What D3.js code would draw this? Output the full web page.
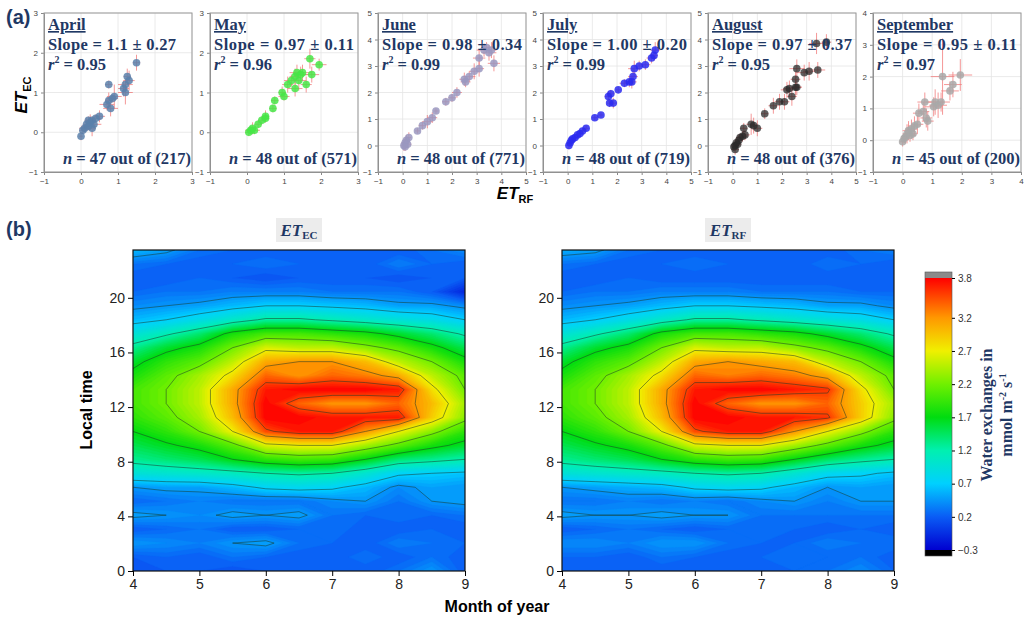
<!DOCTYPE html>
<html>
<head>
<meta charset="utf-8">
<script src="https://cdn.jsdelivr.net/npm/d3@7"></script>
<style>
body { margin: 0; background: white; }
svg { display: block; }
</style>
</head>
<body>
<svg id="svg" width="1025" height="619"></svg>
<script>
// ---------- data: panel (a) scatter, points are [ET_RF, ET_EC, errRF, errEC]
const monthNames = ["April", "May", "June", "July", "August", "September"];
const slopes = ["1.1 \u00b1 0.27", "0.97 \u00b1 0.11", "0.98 \u00b1 0.34", "1.00 \u00b1 0.20", "0.97 \u00b1 0.37", "0.95 \u00b1 0.11"];
const r2 = ["0.95", "0.96", "0.99", "0.99", "0.95", "0.97"];
const nUsed = [47, 48, 48, 48, 48, 45];
const nTotal = [217, 571, 771, 719, 376, 200];
const axisMax = [3, 3, 5, 5, 5, 4];
const pointColours = ["#5b80aa", "#46e646", "#9a98c0", "#2a2af0", "#2a2a2a", "#a8a8a8"];

const april = [[0,-0.1,0.05,0.1],[0.05,0.05,0.1,0.1],[0.1,0.1,0.15,0.1],[0.15,0.2,0.1,0.15],[0.2,0.15,0.2,0.1],[0.25,0.25,0.15,0.2],
  [0.3,0.3,0.1,0.1],[0.35,0.2,0.2,0.15],[0.4,0.35,0.15,0.1],[0.3,0.1,0.1,0.2],[0.2,0.3,0.1,0.1],[0.5,0.4,0.15,0.15],
  [0.7,0.7,0.2,0.15],[0.75,0.8,0.1,0.2],[0.8,0.6,0.2,0.2],[0.85,0.85,0.15,0.1],[0.9,0.9,0.2,0.3],[0.75,1.2,0.1,0.1],
  [1.15,1.1,0.15,0.2],[1.2,1.2,0.2,0.15],[1.25,1.4,0.1,0.2],[1.3,1.3,0.15,0.25],[1.5,1.75,0.1,0.2],[1.2,1.0,0.2,0.3]];
const may = [[0.05,0,0.1,0.1],[0.1,0.05,0.15,0.1],[0.15,0.1,0.1,0.15],[0.2,0.05,0.15,0.1],[0.3,0.2,0.1,0.1],[0.4,0.3,0.1,0.1],
  [0.5,0.35,0.1,0.1],[0.5,0.4,0.1,0.15],[0.7,0.6,0.1,0.1],[0.75,0.8,0.1,0.1],[0.95,1.0,0.1,0.15],[1.0,0.9,0.15,0.1],
  [1.1,1.2,0.15,0.2],[1.2,1.3,0.2,0.15],[1.3,1.4,0.15,0.2],[1.35,1.5,0.2,0.2],[1.4,1.3,0.2,0.25],[1.45,1.45,0.2,0.2],
  [1.5,1.5,0.25,0.2],[1.6,1.2,0.15,0.2],[1.7,1.85,0.15,0.25],[1.75,1.45,0.2,0.2],[1.95,1.7,0.2,0.15],[1.3,1.1,0.2,0.2]];
const june = [[0.05,0,0.1,0.2],[0.1,0.1,0.15,0.2],[0.15,0.2,0.1,0.2],[0.2,0.05,0.15,0.15],[0.25,0.3,0.1,0.2],[0.1,-0.05,0.1,0.15],
  [0.6,0.55,0.1,0.1],[0.8,0.75,0.15,0.15],[1.0,0.9,0.2,0.25],[1.2,1.05,0.2,0.2],[1.35,1.3,0.1,0.1],[1.75,1.65,0.15,0.15],
  [2.0,1.8,0.15,0.15],[2.2,2.0,0.2,0.2],[2.5,2.5,0.2,0.25],[2.55,2.4,0.2,0.2],[2.7,2.6,0.25,0.2],[2.9,2.8,0.2,0.3],
  [3.1,2.9,0.2,0.3],[3.1,3.3,0.25,0.3],[3.3,3.6,0.3,0.25],[3.5,3.5,0.3,0.3],[3.6,3.6,0.2,0.3],[3.7,3.1,0.25,0.3],[3.4,3.7,0.2,0.2]];
const july = [[0.05,0,0.1,0.15],[0.1,0.1,0.1,0.1],[0.15,0.2,0.1,0.1],[0.2,0.25,0.1,0.1],[0.3,0.3,0.1,0.1],[0.4,0.4,0.1,0.1],
  [0.5,0.45,0.1,0.1],[0.6,0.55,0.1,0.1],[0.75,0.65,0.1,0.1],[1.1,1.05,0.1,0.1],[1.35,1.15,0.1,0.1],[1.65,1.85,0.15,0.2],
  [1.75,1.95,0.15,0.15],[1.7,1.6,0.1,0.15],[1.85,1.6,0.15,0.2],[2.05,2.1,0.1,0.1],[2.3,2.35,0.2,0.15],[2.5,2.4,0.2,0.2],
  [2.6,2.4,0.2,0.25],[2.65,2.6,0.2,0.3],[2.7,2.9,0.25,0.3],[2.9,3.0,0.2,0.2],[3.15,3.05,0.2,0.2],[3.4,3.3,0.2,0.2],
  [3.55,3.6,0.2,0.3],[3.5,3.4,0.15,0.2]];
const august = [[0.05,-0.05,0.1,0.15],[0.1,0,0.15,0.2],[0.15,0.1,0.1,0.2],[0.2,0.05,0.15,0.15],[0.1,-0.15,0.15,0.2],[0.25,0.2,0.15,0.2],
  [0.3,0.3,0.15,0.15],[0.4,0.35,0.2,0.2],[0.5,0.4,0.2,0.2],[0.45,0.65,0.15,0.2],[0.75,0.8,0.2,0.4],[0.85,0.75,0.15,0.3],
  [1.0,0.65,0.2,0.3],[1.3,1.2,0.15,0.2],[1.65,1.5,0.2,0.3],[1.9,1.65,0.2,0.3],[2.1,1.65,0.2,0.3],[2.2,2.1,0.25,0.3],
  [2.3,2.15,0.25,0.3],[2.4,1.85,0.2,0.35],[2.55,2.2,0.25,0.3],[2.55,2.5,0.2,0.3],[2.6,2.9,0.3,0.35],[2.6,2.2,0.2,0.3],
  [2.9,2.75,0.3,0.3],[3.1,2.8,0.25,0.35],[3.45,2.85,0.3,0.3],[3.4,3.85,0.3,0.4],[3.8,3.9,0.2,0.3]];
const september = [[0,-0.05,0.1,0.15],[0.05,0.05,0.1,0.15],[0.1,0.1,0.15,0.2],[0.15,0.2,0.15,0.3],[0.2,0.3,0.2,0.3],[0.25,0.15,0.2,0.2],
  [0.3,0.35,0.2,0.3],[0.4,0.45,0.2,0.3],[0.5,0.5,0.2,0.3],[0.55,0.85,0.2,0.3],[0.7,0.9,0.2,0.3],[0.75,1.2,0.25,0.3],
  [0.85,0.6,0.2,0.3],[0.8,0.7,0.2,0.3],[1.05,1.05,0.3,0.3],[1.1,1.2,0.3,0.4],[1.2,1.1,0.3,0.4],[1.3,1.2,0.3,0.3],
  [1.35,2.0,0.4,1.2],[1.6,1.55,0.3,0.3],[1.7,1.75,0.3,0.4],[1.95,2.05,0.4,0.5],[0.35,0.2,0.15,0.2]];
const scatterData = [april, may, june, july, august, september];

// ---------- data: panel (b) diurnal grids, rows = local hour 0..23, columns = months
const months = [4, 4.5, 5, 5.5, 6, 6.5, 7, 7.5, 8, 8.5, 9];
const hours = [0,1,2,3,4,5,6,7,8,9,10,11,12,13,14,15,16,17,18,19,20,21,22,23];
const etEC = [
  [0.15,0.2,0.2,0.15,0.2,0.25,0.2,0.2,0.3,0.45,0.2],
  [0.2,0.25,0.2,0.3,0.25,0.2,0.2,0.3,0.2,0.3,0.2],
  [0.45,0.4,0.35,0.45,0.5,0.3,0.25,0.2,0.35,0.3,0.25],
  [0.2,0.25,0.3,0.2,0.2,0.25,0.3,0.2,0.2,0.25,0.2],
  [0.5,0.45,0.4,0.5,0.45,0.5,0.3,0.25,0.3,0.25,0.3],
  [0.25,0.3,0.35,0.3,0.3,0.3,0.4,0.45,0.3,0.45,0.5],
  [0.45,0.5,0.5,0.6,0.75,0.8,0.75,0.6,0.4,0.5,0.45],
  [0.95,1.0,1.05,1.1,1.2,1.25,1.2,1.0,0.75,0.7,0.65],
  [1.3,1.4,1.5,1.7,1.9,2.0,1.95,1.7,1.4,1.3,1.2],
  [1.5,1.65,1.8,2.1,2.6,2.7,2.7,2.4,2.1,1.8,1.6],
  [1.7,1.9,2.2,2.7,3.5,3.7,3.7,3.2,2.7,2.3,1.9],
  [1.9,2.1,2.4,3.0,3.8,3.8,3.7,3.7,3.7,2.9,2.3],
  [2.0,2.2,2.5,3.1,3.8,3.4,3.2,3.2,3.4,3.0,2.4],
  [2.0,2.2,2.5,3.1,3.7,3.8,3.8,3.8,3.7,2.8,2.2],
  [1.8,2.1,2.4,2.8,3.4,3.2,3.4,3.3,3.1,2.5,2.1],
  [1.6,1.9,2.1,2.5,3.1,3.2,3.2,3.0,2.5,2.2,1.8],
  [1.3,1.6,1.8,2.2,2.6,2.5,2.5,2.3,2.1,1.8,1.5],
  [0.95,1.15,1.4,1.8,2.0,2.0,1.9,1.8,1.6,1.4,1.15],
  [0.6,0.7,0.85,1.05,1.25,1.25,1.15,1.05,0.95,0.85,0.7],
  [0.4,0.45,0.5,0.6,0.7,0.7,0.65,0.6,0.5,0.5,0.4],
  [0.25,0.3,0.3,0.35,0.35,0.35,0.3,0.3,0.3,0.2,-0.1],
  [0.2,0.2,0.25,0.2,0.15,0.2,0.2,0.2,0.15,0.2,0.2],
  [0.3,0.25,0.2,0.25,0.3,0.25,0.2,0.2,0.35,0.25,0.2],
  [0.6,0.5,0.3,0.25,0.2,0.2,0.2,0.25,0.2,0.3,0.4]
];
const etRF = [
  [0.2,0.2,0.25,0.2,0.2,0.25,0.2,0.25,0.3,0.4,0.25],
  [0.25,0.25,0.2,0.3,0.25,0.2,0.25,0.3,0.25,0.3,0.2],
  [0.4,0.4,0.35,0.45,0.45,0.3,0.25,0.25,0.35,0.3,0.3],
  [0.2,0.25,0.3,0.25,0.2,0.25,0.3,0.25,0.2,0.25,0.2],
  [0.5,0.45,0.45,0.5,0.45,0.45,0.3,0.3,0.3,0.3,0.3],
  [0.3,0.3,0.35,0.3,0.35,0.3,0.4,0.45,0.35,0.45,0.45],
  [0.45,0.5,0.55,0.6,0.75,0.8,0.75,0.6,0.45,0.5,0.45],
  [0.95,1.0,1.05,1.1,1.2,1.25,1.2,1.0,0.8,0.75,0.65],
  [1.3,1.4,1.5,1.7,1.9,2.0,1.95,1.7,1.45,1.3,1.2],
  [1.5,1.65,1.8,2.1,2.6,2.7,2.7,2.4,2.1,1.8,1.6],
  [1.7,1.9,2.2,2.7,3.5,3.7,3.7,3.2,2.7,2.3,1.9],
  [1.9,2.1,2.4,3.0,3.8,3.8,3.7,3.7,3.6,2.9,2.3],
  [2.0,2.2,2.5,3.1,3.8,3.4,3.2,3.2,3.4,2.9,2.4],
  [2.0,2.2,2.5,3.1,3.7,3.8,3.8,3.7,3.6,2.8,2.2],
  [1.8,2.1,2.4,2.8,3.4,3.3,3.4,3.3,3.1,2.5,2.1],
  [1.6,1.9,2.1,2.5,3.1,3.2,3.1,3.0,2.5,2.2,1.8],
  [1.3,1.6,1.8,2.2,2.6,2.5,2.5,2.3,2.1,1.8,1.5],
  [0.95,1.15,1.4,1.8,2.0,2.0,1.9,1.8,1.6,1.4,1.15],
  [0.6,0.7,0.85,1.05,1.25,1.25,1.15,1.05,0.95,0.85,0.7],
  [0.4,0.45,0.5,0.6,0.7,0.7,0.65,0.6,0.5,0.5,0.4],
  [0.25,0.3,0.3,0.35,0.35,0.35,0.3,0.3,0.3,0.25,0.25],
  [0.2,0.2,0.25,0.2,0.2,0.2,0.2,0.2,0.2,0.2,0.2],
  [0.3,0.25,0.2,0.25,0.3,0.25,0.2,0.2,0.3,0.25,0.2],
  [0.55,0.5,0.3,0.25,0.2,0.2,0.2,0.25,0.2,0.3,0.35]
];
const colourStops = [-0.3, 0.2, 0.7, 1.2, 1.7, 2.2, 2.7, 3.2, 3.8];
const colourValues = ["#0000d0", "#0a5cf5", "#00d0ff", "#00f0b0", "#00dc10", "#70f000", "#f0f000", "#ff9800", "#ff0000"];
const barTicks = [-0.3, 0.2, 0.7, 1.2, 1.7, 2.2, 2.7, 3.2, 3.8];
const lineLevels = [0.45, 0.7, 1.2, 1.7, 2.2, 2.7, 3.2, 3.55];
const hourTicks = [0, 4, 8, 12, 16, 20];
const monthTicks = [4, 5, 6, 7, 8, 9];

const svg = d3.select("#svg");
const navy = "#1f3864";
const serif = "'Liberation Serif', 'Times New Roman', serif";
const sans = "'Liberation Sans', Arial, sans-serif";

// ---------- panel (a)
const panelLefts = [44, 210, 378, 543, 708, 873];
const panelW = 148, panelTop = 13, panelBottom = 172;

scatterData.forEach((pts, k) => {
    const x = d3.scaleLinear().domain([-1, axisMax[k]]).range([panelLefts[k], panelLefts[k] + panelW]);
    const y = d3.scaleLinear().domain([-1, axisMax[k]]).range([panelBottom, panelTop]);
    const g = svg.append("g");
    const ticks = d3.range(-1, axisMax[k] + 1);

    g.selectAll(".gx").data(ticks).enter().append("line")
        .attr("x1", d => x(d)).attr("x2", d => x(d)).attr("y1", panelTop).attr("y2", panelBottom)
        .attr("stroke", "#e4e4e4").attr("stroke-width", 0.8);
    g.selectAll(".gy").data(ticks).enter().append("line")
        .attr("y1", d => y(d)).attr("y2", d => y(d)).attr("x1", x(-1)).attr("x2", x(axisMax[k]))
        .attr("stroke", "#e4e4e4").attr("stroke-width", 0.8);

    g.append("g").attr("transform", `translate(0,${panelBottom})`)
        .call(d3.axisBottom(x).tickValues(ticks).tickSize(3).tickFormat(d3.format("d")));
    g.append("g").attr("transform", `translate(${panelLefts[k]},0)`)
        .call(d3.axisLeft(y).tickValues(ticks).tickSize(3).tickFormat(d3.format("d")));
    g.selectAll(".tick text").attr("font-size", 8).attr("fill", "#444").attr("font-family", sans);
    g.selectAll(".domain").attr("stroke", "#888");
    g.selectAll(".tick line").attr("stroke", "#888");
    g.append("rect").attr("x", panelLefts[k]).attr("y", panelTop).attr("width", panelW)
        .attr("height", panelBottom - panelTop).attr("fill", "none").attr("stroke", "#999");

    // error bars
    const eb = g.append("g").attr("stroke", "#f06868").attr("stroke-width", 0.8).attr("opacity", 0.85);
    pts.forEach(p => {
        eb.append("line").attr("x1", x(p[0] - p[2])).attr("x2", x(p[0] + p[2])).attr("y1", y(p[1])).attr("y2", y(p[1]));
        eb.append("line").attr("x1", x(p[0])).attr("x2", x(p[0])).attr("y1", y(p[1] - p[3])).attr("y2", y(p[1] + p[3]));
    });
    g.selectAll(".pt").data(pts).enter().append("circle")
        .attr("cx", d => x(d[0])).attr("cy", d => y(d[1])).attr("r", 3.8)
        .attr("fill", pointColours[k]).attr("opacity", k == 4 ? 0.75 : 0.85);

    const tx = panelLefts[k] + 4;
    const t = g.append("g").attr("font-family", serif).attr("font-weight", "bold").attr("fill", navy).attr("font-size", 16.5);
    t.append("text").attr("x", tx).attr("y", 30).text(monthNames[k]).attr("text-decoration", "underline");
    t.append("text").attr("x", tx).attr("y", 50).attr("textLength", k == 0 ? 128 : 140).text("Slope = " + slopes[k]);
    const r = t.append("text").attr("x", tx).attr("y", 70);
    r.append("tspan").attr("font-style", "italic").text("r");
    r.append("tspan").attr("font-size", 10).attr("dy", -7).text("2");
    r.append("tspan").attr("dy", 7).text(" = " + r2[k]);
    const n = t.append("text").attr("x", panelLefts[k] + panelW - 1).attr("y", 164).attr("text-anchor", "end");
    n.append("tspan").attr("font-style", "italic").text("n");
    n.append("tspan").text(` = ${nUsed[k]} out of (${nTotal[k]})`);
});

svg.append("text").attr("x", 6).attr("y", 24).attr("font-family", sans).attr("font-weight", "bold")
    .attr("font-size", 20).attr("fill", navy).text("(a)");
const yl = svg.append("text").attr("transform", "translate(27,95) rotate(-90)").attr("text-anchor", "middle")
    .attr("font-family", sans).attr("font-weight", "bold").attr("font-size", 17);
yl.append("tspan").attr("font-style", "italic").text("ET");
yl.append("tspan").attr("font-size", 11).attr("dy", 4).text("EC");
const xl = svg.append("text").attr("x", 515).attr("y", 199).attr("text-anchor", "middle")
    .attr("font-family", sans).attr("font-weight", "bold").attr("font-size", 17);
xl.append("tspan").attr("font-style", "italic").text("ET");
xl.append("tspan").attr("font-size", 11).attr("dy", 4).text("RF");

// ---------- panel (b)
const colour = d3.scaleLinear().domain(colourStops).range(colourValues).clamp(true);
const mapTop = 250, mapBottom = 571;
const mapLefts = [133, 562], mapW = 332;
const fillLevels = d3.range(-0.3, 3.85, 0.05);

[etEC, etRF].forEach((grid, k) => {
    const xs = d3.scaleLinear().domain([4, 9]).range([mapLefts[k], mapLefts[k] + mapW]);
    const ys = d3.scaleLinear().domain([0, 23.5]).range([mapBottom, mapTop]);
    const nx = months.length, ny = hours.length;
    const values = [];
    grid.forEach(row => row.forEach(v => values.push(v)));
    const proj = d3.geoTransform({
        point: function (px, py) {
            const m = months[0] + (px - 0.5) * (months[1] - months[0]);
            const h = (py - 0.5) * 23.5 / (ny - 1);
            this.stream.point(xs(m), ys(h));
        }
    });
    const path = d3.geoPath(proj);
    const clipId = "clip" + k;
    svg.append("clipPath").attr("id", clipId).append("rect")
        .attr("x", mapLefts[k]).attr("y", mapTop).attr("width", mapW).attr("height", mapBottom - mapTop);
    const g = svg.append("g").attr("clip-path", `url(#${clipId})`);
    g.append("rect").attr("x", mapLefts[k]).attr("y", mapTop).attr("width", mapW)
        .attr("height", mapBottom - mapTop).attr("fill", colour(-0.3));
    const bands = d3.contours().size([nx, ny]).thresholds(fillLevels)(values);
    g.selectAll(".band").data(bands).enter().append("path")
        .attr("d", path).attr("fill", d => colour(d.value + 0.025)).attr("stroke", d => colour(d.value + 0.025)).attr("stroke-width", 0.3);
    const lines = d3.contours().size([nx, ny]).thresholds(lineLevels)(values);
    g.selectAll(".iso").data(lines).enter().append("path")
        .attr("d", path).attr("fill", "none").attr("stroke", "#1a3a2a").attr("stroke-width", 0.7).attr("opacity", 0.75);

    svg.append("rect").attr("x", mapLefts[k]).attr("y", mapTop).attr("width", mapW)
        .attr("height", mapBottom - mapTop).attr("fill", "none").attr("stroke", "#111").attr("stroke-width", 1.2);
    const ax = svg.append("g").attr("transform", `translate(0,${mapBottom})`)
        .call(d3.axisBottom(xs).tickValues(monthTicks).tickSize(5).tickFormat(d3.format("d")));
    const ay = svg.append("g").attr("transform", `translate(${mapLefts[k]},0)`)
        .call(d3.axisLeft(ys).tickValues(hourTicks).tickSize(5).tickFormat(d3.format("d")));
    [ax, ay].forEach(a => {
        a.selectAll("text").attr("font-size", 14).attr("font-family", sans).attr("fill", "#222");
        a.select(".domain").remove();
    });

    const cx = mapLefts[k] + mapW / 2;
    svg.append("rect").attr("x", cx - 23).attr("y", 218).attr("width", 46).attr("height", 24).attr("fill", "#ececec");
    const tt = svg.append("text").attr("x", cx).attr("y", 236).attr("text-anchor", "middle")
        .attr("font-family", serif).attr("font-weight", "bold").attr("font-size", 17).attr("fill", navy);
    tt.append("tspan").attr("font-style", "italic").text("ET");
    tt.append("tspan").attr("font-size", 11).attr("dy", 3).text(k == 0 ? "EC" : "RF");
});

svg.append("text").attr("x", 6).attr("y", 236).attr("font-family", sans).attr("font-weight", "bold")
    .attr("font-size", 20).attr("fill", navy).text("(b)");
svg.append("text").attr("transform", "translate(92,410) rotate(-90)").attr("text-anchor", "middle")
    .attr("font-family", sans).attr("font-weight", "bold").attr("font-size", 16).text("Local time");
svg.append("text").attr("x", 497).attr("y", 612).attr("text-anchor", "middle")
    .attr("font-family", sans).attr("font-weight", "bold").attr("font-size", 16).text("Month of year");

// ---------- colour bar
const barX = 925, barW = 27;
const cb = d3.scaleLinear().domain([-0.3, 3.8]).range([550, 278]);
const defs = svg.append("defs");
const grad = defs.append("linearGradient").attr("id", "cbar").attr("x1", 0).attr("x2", 0).attr("y1", 1).attr("y2", 0);
colourStops.forEach(v => grad.append("stop").attr("offset", (v + 0.3) / 4.1).attr("stop-color", colour(v)));
svg.append("rect").attr("x", barX).attr("y", 272).attr("width", barW).attr("height", 6).attr("fill", "#8a8a8a");
svg.append("rect").attr("x", barX).attr("y", 550).attr("width", barW).attr("height", 6).attr("fill", "#000");
svg.append("rect").attr("x", barX).attr("y", 278).attr("width", barW).attr("height", 272).attr("fill", "url(#cbar)");
svg.append("rect").attr("x", barX).attr("y", 272).attr("width", barW).attr("height", 284)
    .attr("fill", "none").attr("stroke", "#555").attr("stroke-width", 0.6);
const cbAxis = svg.append("g").attr("transform", `translate(${barX + barW},0)`)
    .call(d3.axisRight(cb).tickValues(barTicks).tickSize(3).tickFormat(d3.format(".1f")));
cbAxis.select(".domain").remove();
cbAxis.selectAll("text").attr("font-size", 10).attr("font-family", sans).attr("fill", "#333");

const cl = svg.append("text").attr("transform", "translate(992,415) rotate(-90)").attr("text-anchor", "middle")
    .attr("font-family", serif).attr("font-weight", "bold").attr("font-size", 16).attr("fill", navy);
cl.text("Water exchanges in");
const cl2 = svg.append("text").attr("transform", "translate(1012,415) rotate(-90)").attr("text-anchor", "middle")
    .attr("font-family", serif).attr("font-weight", "bold").attr("font-size", 16).attr("fill", navy);
cl2.append("tspan").text("mmol m");
cl2.append("tspan").attr("font-size", 10).attr("dy", -6).text("-2");
cl2.append("tspan").attr("dy", 6).text(" s");
cl2.append("tspan").attr("font-size", 10).attr("dy", -6).text("-1");
</script>
</body>
</html>
